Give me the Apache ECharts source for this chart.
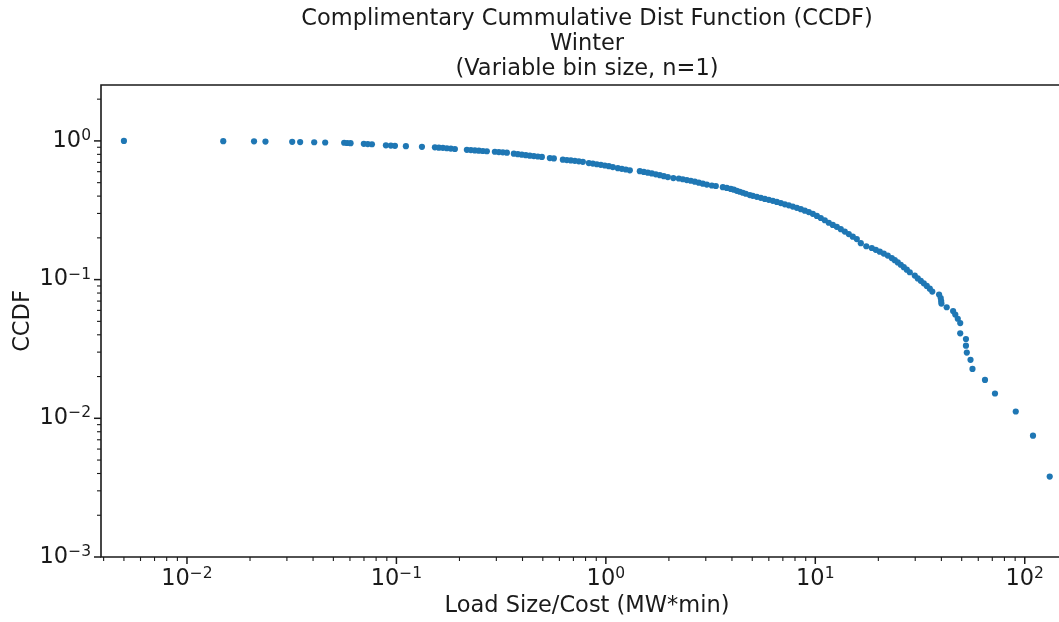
<!DOCTYPE html>
<html><head><meta charset="utf-8">
<script src="https://cdn.jsdelivr.net/npm/echarts@6/dist/echarts.min.js"></script>
<style>html,body{margin:0;padding:0;background:#fff}#c{width:1059px;height:622px}</style>
</head><body><div id="c"></div>
<script>
const titleText = 'Complimentary Cummulative Dist Function (CCDF)\nWinter\n(Variable bin size, n=1)';
const xAxisTitle = 'Load Size/Cost (MW*min)';
const yAxisTitle = 'CCDF';

const xValues = [
  0.0050, 0.0149, 0.0209, 0.0237, 0.0318, 0.0347, 0.0405, 0.0457, 0.0563, 0.0582, 0.0604,
  0.0699, 0.0730, 0.0764, 0.0891, 0.0941, 0.0984, 0.1110, 0.1324, 0.1527, 0.1595,
  0.1667, 0.1742, 0.1820, 0.1902, 0.2170, 0.2268, 0.2370, 0.2476, 0.2587, 0.2703,
  0.2952, 0.3085, 0.3223, 0.3369, 0.3637, 0.3801, 0.3971, 0.4150, 0.4337, 0.4532,
  0.4736, 0.4949, 0.5403, 0.5646, 0.6233, 0.6513, 0.6807, 0.7112, 0.7432, 0.7766,
  0.8295, 0.8668, 0.9058, 0.9466,
  0.9891, 1.0335, 1.0799, 1.1409, 1.1922, 1.2458, 1.3018, 1.4531, 1.5183, 1.5866,
  1.6579, 1.7325, 1.8104, 1.8917, 1.9768, 2.0999, 2.2309, 2.3311, 2.4359, 2.5455,
  2.6598, 2.7794, 2.9043, 3.0350, 3.2064, 3.3506, 3.6185, 3.7813, 3.9514, 4.0835,
  4.2206, 4.3621, 4.5082, 4.6596, 4.8690, 5.0321, 5.2585, 5.4950, 5.7418, 6.0000,
  6.2695, 6.5516, 6.8463, 7.1537, 7.4753, 7.8111, 8.1625, 8.5296, 8.9126, 9.3133,
  9.7318, 10.170, 10.624, 11.101, 11.600, 12.122, 12.667, 13.237, 13.832, 14.454,
  15.103, 15.782, 16.492, 17.52, 18.610, 19.448, 20.322, 21.235, 22.190, 23.187,
  23.965, 24.768, 25.599, 26.455, 27.343, 28.260, 29.857, 30.857, 31.894, 32.960,
  34.068, 35.209, 36.19,
  39.0, 39.7, 39.9, 40.0, 42.4, 45.5, 46.6, 47.9, 49.2, 49.2,
  52.4, 52.4, 52.9, 55.1, 56.3, 64.6, 72.1, 90.6, 109.5, 131.6
];
const yValues = [
  1.0, 0.996, 0.993, 0.989, 0.985, 0.981, 0.978, 0.974, 0.970, 0.966, 0.963,
  0.952, 0.949, 0.946, 0.930, 0.925, 0.922, 0.916, 0.906, 0.899, 0.894,
  0.891, 0.885, 0.880, 0.874, 0.862, 0.859, 0.854, 0.850, 0.846, 0.842,
  0.835, 0.831, 0.827, 0.822, 0.809, 0.802, 0.796, 0.789, 0.783, 0.777,
  0.772, 0.767, 0.752, 0.748, 0.732, 0.727, 0.723, 0.718, 0.713, 0.707,
  0.692, 0.686, 0.679, 0.672,
  0.665, 0.657, 0.648, 0.636, 0.629, 0.622, 0.614, 0.605, 0.598, 0.590,
  0.583, 0.574, 0.566, 0.557, 0.549, 0.540, 0.536, 0.529, 0.522, 0.516,
  0.508, 0.500, 0.492, 0.484, 0.477, 0.473, 0.464, 0.458, 0.451, 0.445,
  0.437, 0.430, 0.423, 0.416, 0.407, 0.402, 0.395, 0.389, 0.382, 0.376,
  0.370, 0.363, 0.356, 0.349, 0.343, 0.336, 0.329, 0.322, 0.314, 0.307,
  0.298, 0.288, 0.278, 0.268, 0.257, 0.248, 0.240, 0.231, 0.222, 0.213,
  0.204, 0.196, 0.183, 0.174, 0.169, 0.164, 0.159, 0.154, 0.149, 0.143,
  0.138, 0.133, 0.128, 0.123, 0.118, 0.113, 0.107, 0.102, 0.098, 0.094,
  0.090, 0.086, 0.082,
  0.0780, 0.0736, 0.0700, 0.0672, 0.0632, 0.0593, 0.0560, 0.0522, 0.0486, 0.0410,
  0.0373, 0.0334, 0.0298, 0.0264, 0.0227, 0.0189, 0.0151, 0.0112, 0.0075, 0.0038
];

const xMajorTicks = [0.01, 0.1, 1, 10, 100];
const xMinorTicks = [0.004, 0.005, 0.006, 0.007, 0.008, 0.009,
  0.02, 0.03, 0.04, 0.05, 0.06, 0.07, 0.08, 0.09,
  0.2, 0.3, 0.4, 0.5, 0.6, 0.7, 0.8, 0.9,
  2, 3, 4, 5, 6, 7, 8, 9,
  20, 30, 40, 50, 60, 70, 80, 90];
const yMajorTicks = [0.001, 0.01, 0.1, 1];
const yMinorTicks = [0.002, 0.003, 0.004, 0.005, 0.006, 0.007, 0.008, 0.009,
  0.02, 0.03, 0.04, 0.05, 0.06, 0.07, 0.08, 0.09,
  0.2, 0.3, 0.4, 0.5, 0.6, 0.7, 0.8, 0.9, 2];

const X_MIN = 0.003886, X_MAX = 170;
const Y_MIN = 0.001, Y_MAX = 2.53;
const FONT = 'DejaVu Sans';
const INK = '#1a1a1a';
const MAJOR_LEN = 7, MINOR_LEN = 4;

function powLabel(v) {
  const e = Math.log10(v);
  const r = Math.round(e);
  if (Math.abs(e - r) > 1e-6) return '';
  const s = r < 0 ? '\u2212' + (-r) : String(r);
  return '{b|10}{s|' + s + '}';
}
const labelRich = {
  b: { fontSize: 22.5, lineHeight: 26, fontFamily: FONT, color: INK },
  s: { fontSize: 15.5, verticalAlign: 'top', fontFamily: FONT, color: INK }
};

const points = xValues.map((x, i) => [x, yValues[i]]);
const xTickData = xMajorTicks.map(v => [v, Y_MIN, MAJOR_LEN]).concat(xMinorTicks.map(v => [v, Y_MIN, MINOR_LEN]));
const yTickData = yMajorTicks.map(v => [X_MIN, v, MAJOR_LEN]).concat(yMinorTicks.map(v => [X_MIN, v, MINOR_LEN]));

const chart = echarts.init(document.getElementById('c'), null, { renderer: 'canvas' });
chart.setOption({
  animation: false,
  backgroundColor: '#fff',
  title: {
    text: titleText,
    left: 587, top: 7, padding: 0,
    textAlign: 'center',
    textStyle: { fontFamily: FONT, fontSize: 22.5, fontWeight: 'normal', color: INK, lineHeight: 25 }
  },
  grid: {
    left: 101, top: 85, right: -14, bottom: 65,
    show: true, borderColor: INK, borderWidth: 1.6,
    containLabel: false, outerBoundsMode: 'none'
  },
  xAxis: {
    type: 'log', logBase: 10, min: X_MIN, max: X_MAX,
    axisLine: { show: false }, axisTick: { show: false }, splitLine: { show: false },
    axisLabel: { formatter: powLabel, rich: labelRich, margin: 9, fontSize: 22.5, fontFamily: FONT, color: INK },
    name: xAxisTitle, nameLocation: 'middle', nameGap: 38, nameMoveOverlap: false,
    nameTextStyle: { fontFamily: FONT, fontSize: 22.5, color: INK }
  },
  yAxis: {
    type: 'log', logBase: 10, min: Y_MIN, max: Y_MAX,
    axisLine: { show: false }, axisTick: { show: false }, splitLine: { show: false },
    axisLabel: { formatter: powLabel, rich: labelRich, margin: 10, fontSize: 22.5, fontFamily: FONT, color: INK },
    name: yAxisTitle, nameLocation: 'middle', nameGap: 66, nameRotate: 90, nameMoveOverlap: false,
    nameTextStyle: { fontFamily: FONT, fontSize: 22.5, color: INK }
  },
  series: [
    {
      type: 'scatter', data: points, symbol: 'circle', symbolSize: 6.2,
      itemStyle: { color: '#1f77b4', opacity: 1 }, silent: true, z: 3
    },
    {
      type: 'custom', data: xTickData, silent: true, clip: false, z: 4,
      renderItem: function (params, api) {
        const p = api.coord([api.value(0), api.value(1)]);
        const len = api.value(2);
        return { type: 'line', shape: { x1: p[0], y1: p[1], x2: p[0], y2: p[1] + len },
          style: { stroke: INK, lineWidth: len > 5 ? 1.5 : 1.1 } };
      }
    },
    {
      type: 'custom', data: yTickData, silent: true, clip: false, z: 4,
      renderItem: function (params, api) {
        const p = api.coord([api.value(0), api.value(1)]);
        const len = api.value(2);
        return { type: 'line', shape: { x1: p[0], y1: p[1], x2: p[0] - len, y2: p[1] },
          style: { stroke: INK, lineWidth: len > 5 ? 1.5 : 1.1 } };
      }
    }
  ]
});
</script>
</body></html>
